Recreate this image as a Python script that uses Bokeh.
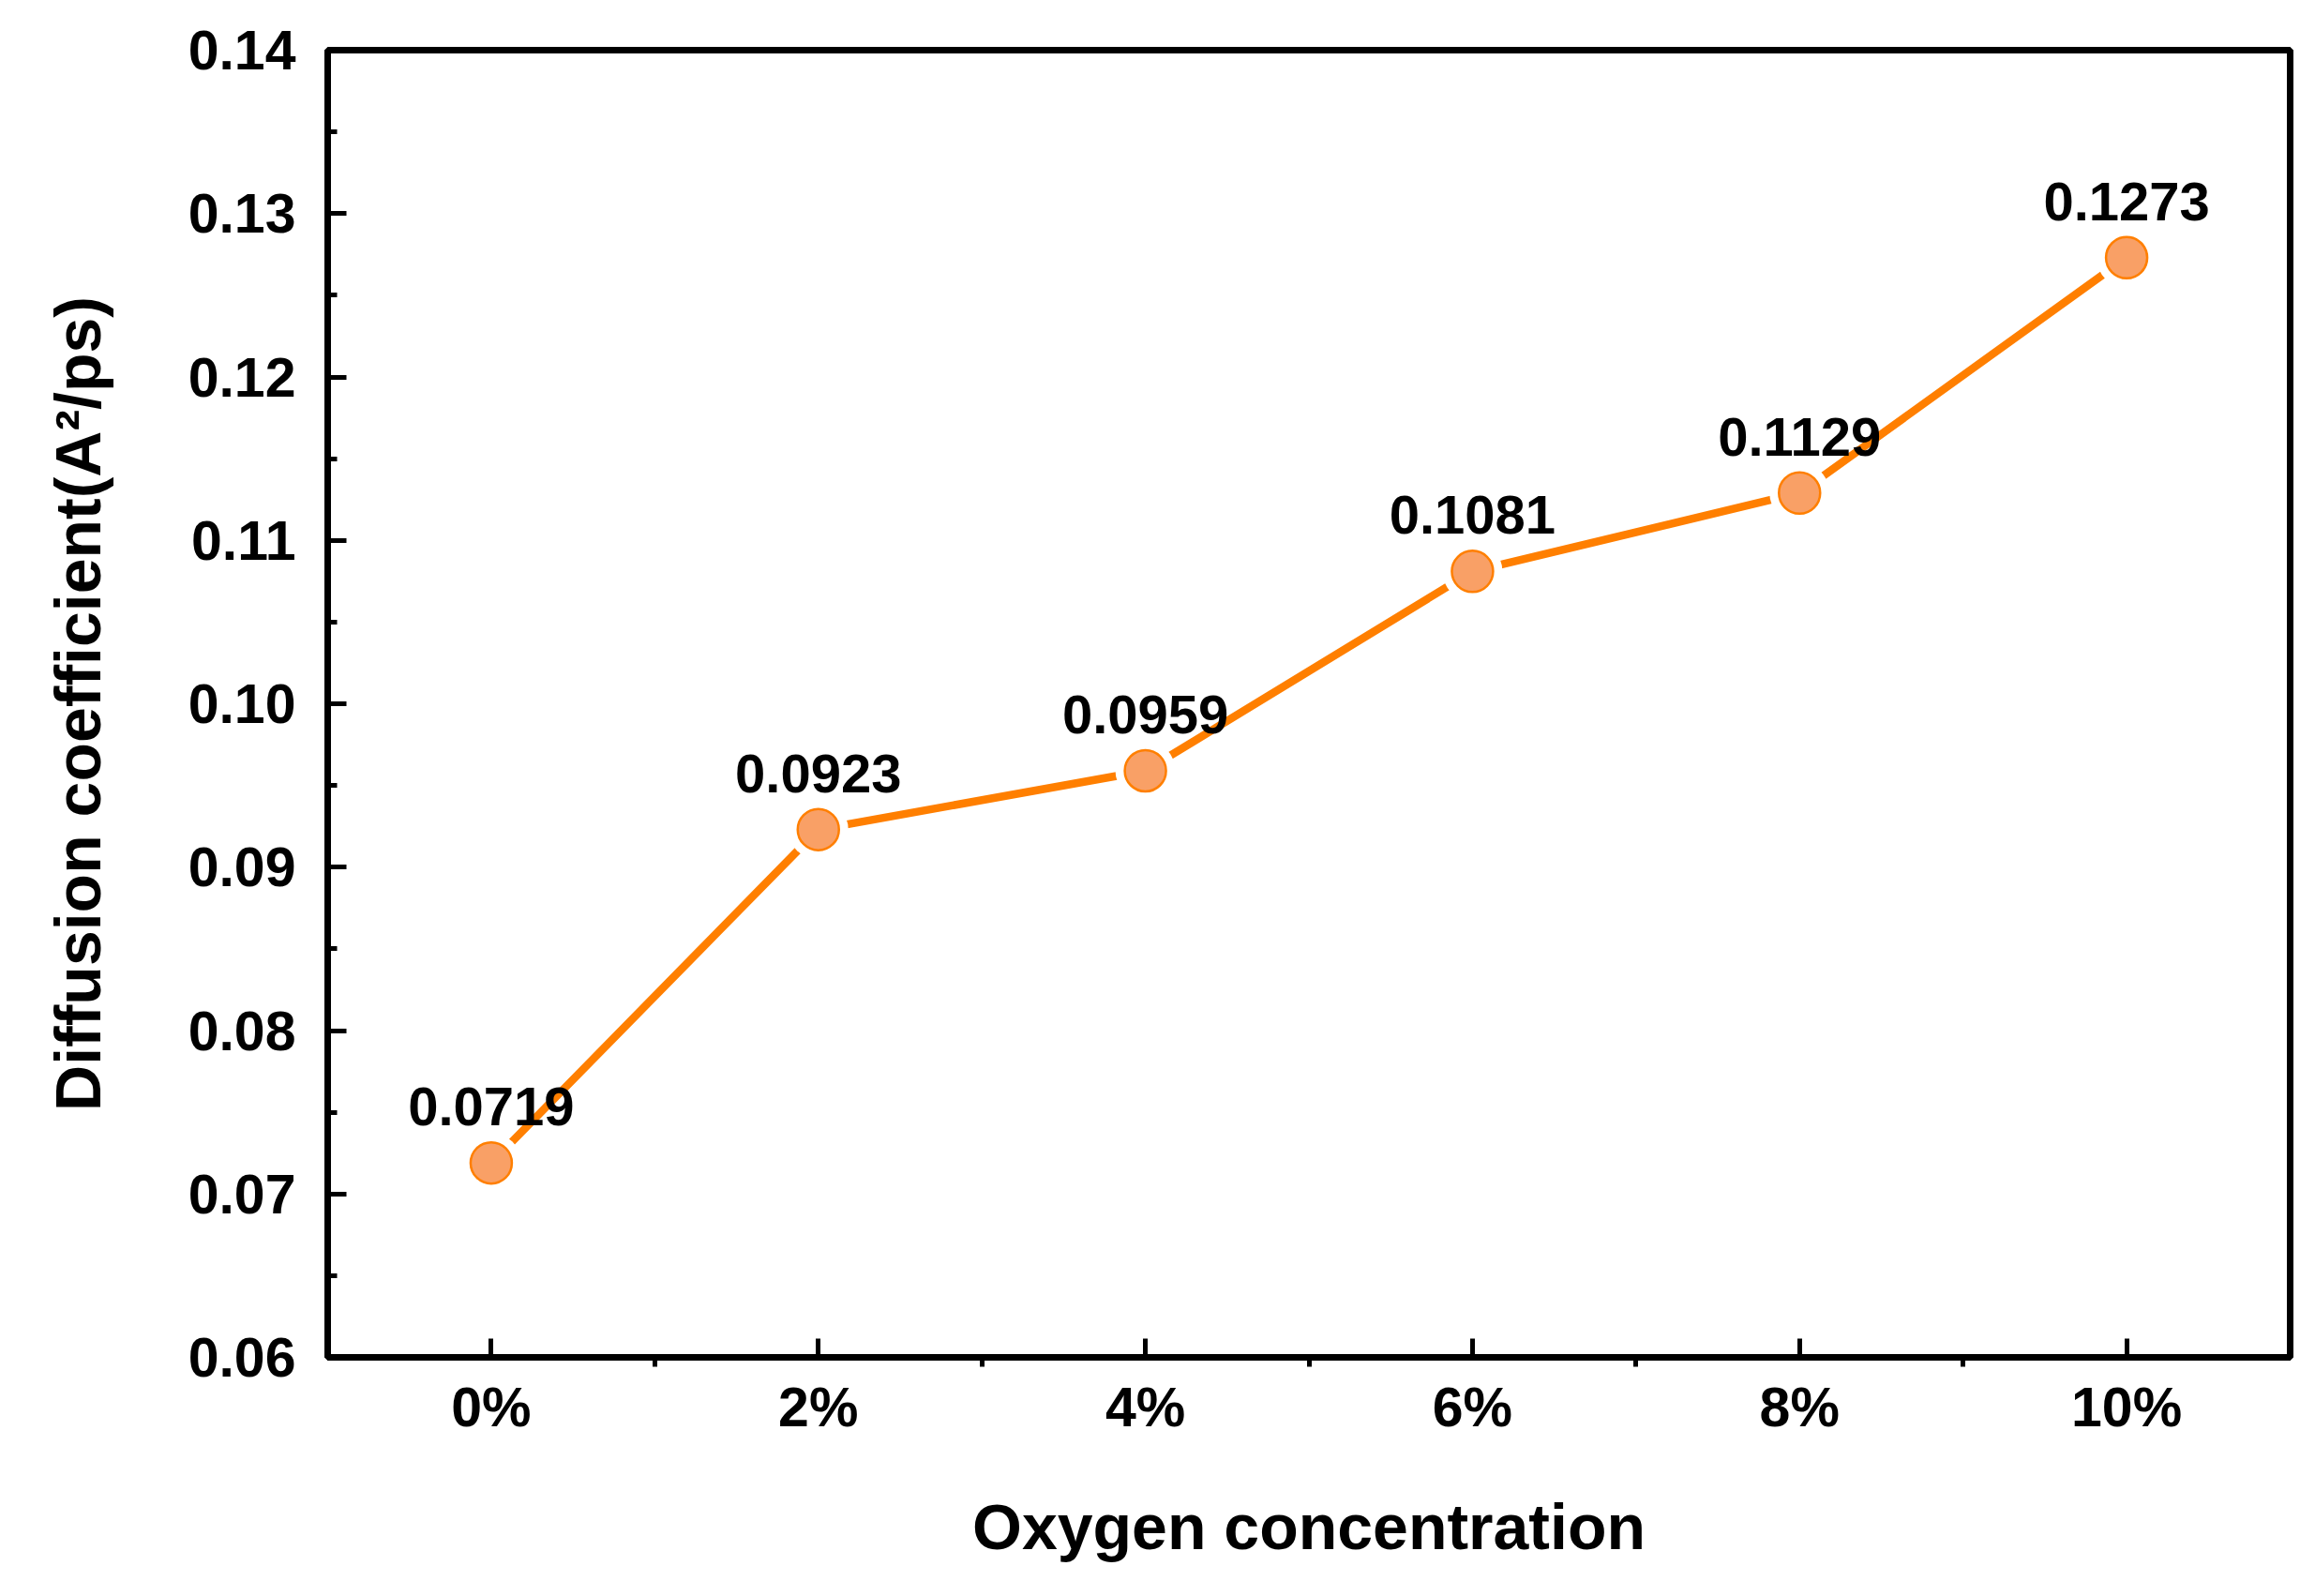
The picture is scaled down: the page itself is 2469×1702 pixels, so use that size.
from bokeh.plotting import figure
from bokeh.models import FixedTicker, PrintfTickFormatter, ColumnDataSource, Range1d
from bokeh.core.properties import value
from bokeh.embed import file_html
from bokeh.resources import INLINE

# ---- data ----
conc = [0, 2, 4, 6, 8, 10]
conc_labels = ["0%", "2%", "4%", "6%", "8%", "10%"]
diffusion = [0.0719, 0.0923, 0.0959, 0.1081, 0.1129, 0.1273]
value_labels = ["0.0719", "0.0923", "0.0959", "0.1081", "0.1129", "0.1273"]
y_ticks = [0.06, 0.07, 0.08, 0.09, 0.10, 0.11, 0.12, 0.13, 0.14]
y_minor = [0.065, 0.075, 0.085, 0.095, 0.105, 0.115, 0.125, 0.135]
x_minor = [1, 3, 5, 7, 9]

FONT = "Liberation Sans"
LINE = "#FF7F00"
FILL = "#F9A066"

src = ColumnDataSource(dict(x=conc, y=diffusion, lab=value_labels))

p = figure(width=2453, height=1686, output_backend="svg", toolbar_location=None,
           x_range=Range1d(-1, 11), y_range=Range1d(0.06, 0.14))
p.min_border_left = 349
p.min_border_right = 11
p.min_border_top = 53
p.min_border_bottom = 239
p.background_fill_color = "white"
p.border_fill_color = "white"
p.outline_line_color = "black"
p.outline_line_width = 7
p.grid.visible = False

# line with gaps around markers
p.line("x", "y", source=src, line_color=LINE, line_width=8.5)
p.scatter("x", "y", source=src, size=64, fill_color="white", line_color=None)
p.scatter("x", "y", source=src, size=44, fill_color=FILL, line_color=LINE, line_width=2.5)
p.text("x", "y", text="lab", source=src, text_align="center", text_baseline="alphabetic",
       y_offset=-60, text_font_size="58px", text_font_style="bold", text_color="black",
       text_font=value(FONT))

# x axis
xa = p.xaxis[0]
xa.ticker = FixedTicker(ticks=conc, minor_ticks=x_minor)
xa.major_label_overrides = {c: l for c, l in zip(conc, conc_labels)}
xa.axis_label = "Oxygen concentration"
# y axis
ya = p.yaxis[0]
ya.ticker = FixedTicker(ticks=y_ticks, minor_ticks=y_minor)
ya.formatter = PrintfTickFormatter(format="%.2f")
ya.axis_label = "Diffusion coefficient(A\u00b2/ps)"

for ax in (xa, ya):
    ax.axis_line_width = 7
    ax.axis_line_color = "black"
    ax.major_tick_line_width = 5
    ax.minor_tick_line_width = 5
    ax.major_tick_in = 20
    ax.major_tick_out = 0
    ax.major_label_text_font = FONT
    ax.major_label_text_font_style = "bold"
    ax.major_label_text_font_size = "59px"
    ax.major_label_text_color = "black"
    ax.axis_label_text_font = FONT
    ax.axis_label_text_font_style = "bold"
    ax.axis_label_text_font_size = "68px"
    ax.axis_label_text_color = "black"

xa.minor_tick_in = 0
xa.minor_tick_out = 10
xa.major_label_standoff = 10
xa.axis_label_standoff = 53
ya.minor_tick_in = 10
ya.minor_tick_out = 0
ya.major_label_standoff = 34
ya.axis_label_standoff = 77

open("out.html", "w").write(file_html(p, INLINE))
